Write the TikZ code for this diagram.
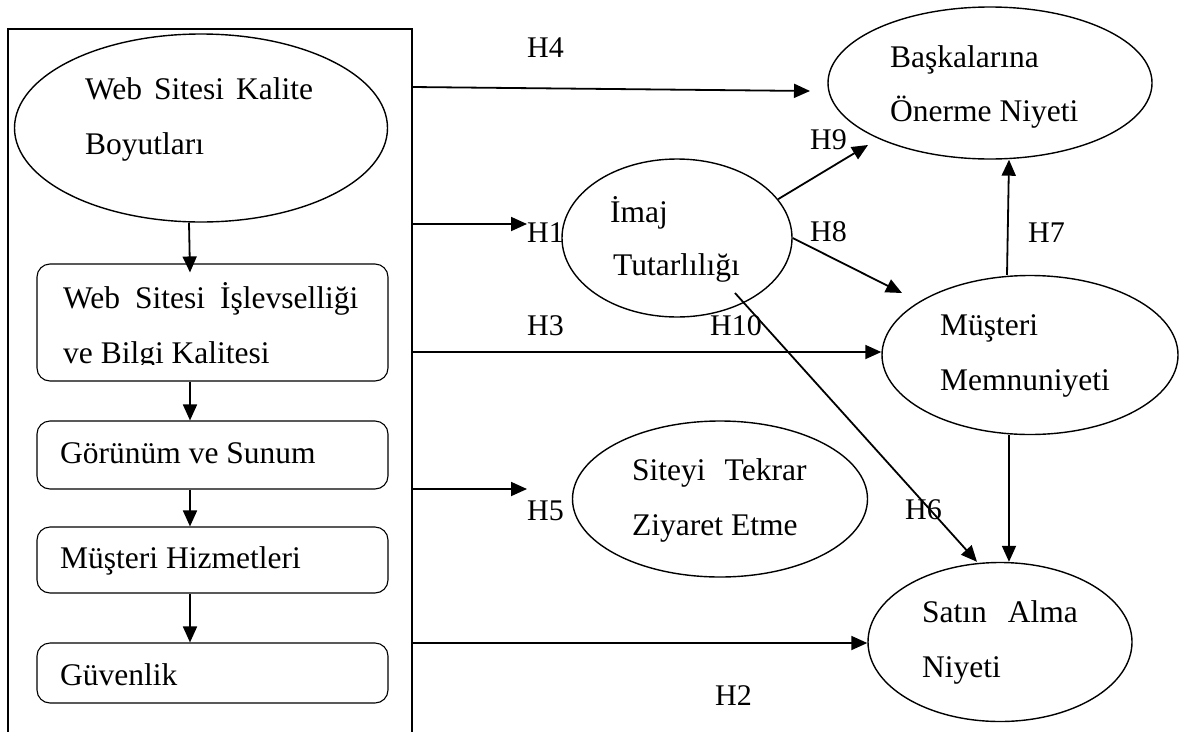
\documentclass[tikz,border=0pt]{standalone}
\usepackage{fontspec}
\setmainfont{Liberation Serif}
\usetikzlibrary{arrows.meta,shapes.geometric}
\begin{document}
\begin{tikzpicture}[x=1pt,y=-1pt,
  ell/.style={draw,ellipse,line width=1.4pt,inner sep=0pt},
  box/.style={draw,rectangle,rounded corners=13pt,line width=1.1pt,inner sep=0pt,minimum width=351pt},
  txt/.style={anchor=base west,inner sep=0pt,font=\fontsize{31.5}{38}\selectfont},
  hyp/.style={anchor=base west,inner sep=0pt,font=\fontsize{30}{36}\selectfont},
  arr/.style={line width=1.8pt,-{Triangle[length=16pt,width=14pt]}},
  frame/.style={line width=1.8pt}]
\useasboundingbox (0,0) rectangle (1182,731);

% frame
\draw[frame] (8,735) -- (8,29) -- (412,29) -- (412,735);

% ellipses
\node[ell,minimum width=373pt,minimum height=188pt] (kal) at (201,128) {};
\node[ell,minimum width=230pt,minimum height=158pt] (img) at (677,238) {};
\node[ell,minimum width=324pt,minimum height=152pt] (bas) at (990,83) {};
\node[ell,minimum width=296pt,minimum height=159pt] (mem) at (1030,355) {};
\node[ell,minimum width=295pt,minimum height=156pt] (sit) at (720,499) {};
\node[ell,minimum width=264pt,minimum height=159pt] (sat) at (1000,642) {};

% boxes
\node[box,minimum height=117pt] (b2) at (212.5,322.5) {};
\node[box,minimum height=68pt] (b3) at (212.5,455) {};
\node[box,minimum height=66pt] (b4) at (212.5,560) {};
\node[box,minimum height=60pt] (b5) at (212.5,673) {};

% texts
\node[txt] (t1a) at (85,99) {Web\hspace{12pt}Sitesi\hspace{12pt}Kalite};
\node[txt] (t1b) at (85,154) {Boyutları};
\begin{scope}
\clip (37,264) rectangle (388,364);
\node[txt] (t2a) at (63,308) {Web\hspace{15pt}Sitesi\hspace{15pt}İşlevselliği};
\node[txt] (t2b) at (63,363) {ve Bilgi Kalitesi};
\end{scope}
\node[txt] (t3) at (60,463) {Görünüm ve Sunum};
\node[txt] (t4) at (60,568) {Müşteri Hizmetleri};
\node[txt] (t5) at (60,685) {Güvenlik};
\node[txt] (ti1) at (610,222) {İmaj};
\node[txt] (ti2) at (613,275) {Tutarlılığı};
\node[txt] (tb1) at (890,67) {Başkalarına};
\node[txt] (tb2) at (890,121) {Önerme Niyeti};
\node[txt] (tm1) at (940,335) {Müşteri};
\node[txt] (tm2) at (940,390) {Memnuniyeti};
\node[txt] (ts1) at (632,480) {Siteyi\hspace{19pt}Tekrar};
\node[txt] (ts2) at (632,535) {Ziyaret Etme};
\node[txt] (ta1) at (922,622) {Satın\hspace{21pt}Alma};
\node[txt] (ta2) at (922,677) {Niyeti};

% hypothesis labels
\node[hyp] (h4) at (527,57) {H4};
\node[hyp] (h1) at (527,242) {H1};
\node[hyp] (h3) at (527,335) {H3};
\node[hyp] (h10) at (710,335) {H10};
\node[hyp] (h5) at (527,520) {H5};
\node[hyp] (h2) at (715,705) {H2};
\node[hyp] (h6) at (905,519) {H6};
\node[hyp] (h9) at (810,149) {H9};
\node[hyp] (h8) at (810,241) {H8};
\node[hyp] (h7) at (1028,242) {H7};

% coordinates
\coordinate (f4) at (412,87);
\coordinate (e4) at (810,91);
\coordinate (f1) at (412,224);
\coordinate (e1) at (527,224);
\coordinate (f3) at (412,352);
\coordinate (f5) at (412,489);
\coordinate (e5) at (527,489);
\coordinate (f2) at (412,643);
\coordinate (e9) at (868,145);
\coordinate (e8) at (902,293);
\coordinate (s10) at (735,293);

% vertical chain arrows
\draw[arr] ([xshift=-12pt]kal.south) -- ([xshift=-22.5pt,yshift=-9pt]b2.north);
\draw[arr] ([xshift=-22.5pt]b2.south) -- ([xshift=-22.5pt]b3.north);
\draw[arr] ([xshift=-22.5pt]b3.south) -- ([xshift=-22.5pt]b4.north);
\draw[arr] ([xshift=-22.5pt]b4.south) -- ([xshift=-22.5pt]b5.north);

% frame arrows
\draw[arr] (f4) -- (e4);
\draw[arr] (f1) -- (e1);
\draw[arr] (f3) -- (f3 -| mem.west);
\draw[arr] (f5) -- (e5);
\draw[arr] (f2) -- (f2 -| sat.west);

% inner arrows
\draw[arr] (img.21) -- (e9);
\draw[arr] (img.east) -- (e8);
\draw[arr] ([xshift=-23pt]mem.north) -- ([xshift=19pt]bas.south);
\draw[arr] ([xshift=-21pt]mem.south) -- ([xshift=-21pt]mem.south |- sat.north);
\draw[arr] (s10) -- ([xshift=-23pt]sat.north);
\end{tikzpicture}
\end{document}
